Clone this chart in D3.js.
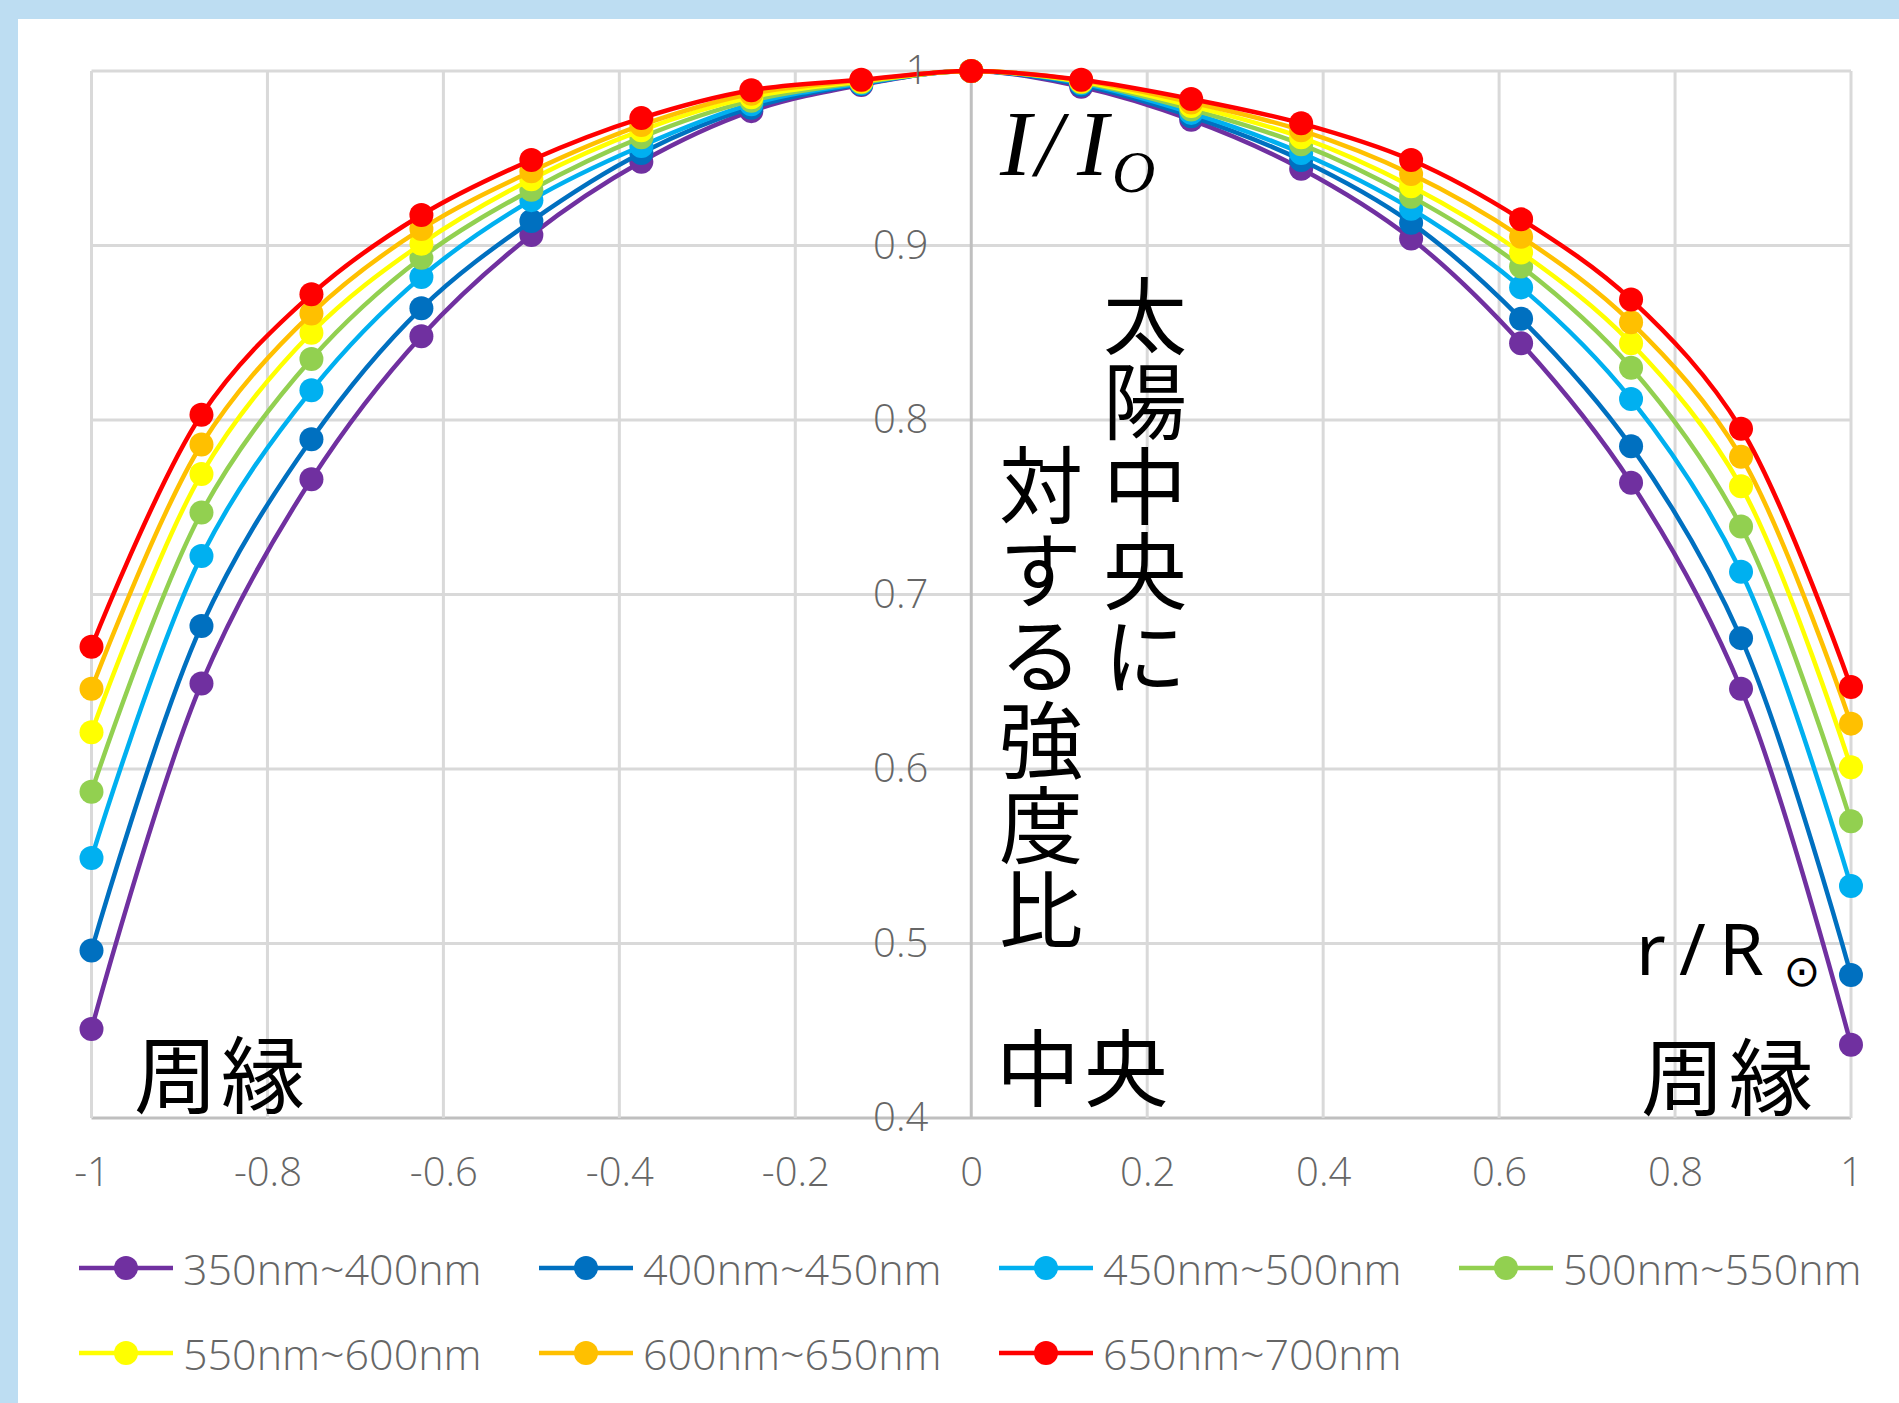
<!DOCTYPE html>
<html><head><meta charset="utf-8">
<script src="https://cdn.jsdelivr.net/npm/d3@7/dist/d3.min.js"></script>
<style>
html,body{margin:0;padding:0;background:#fff;}
svg{display:block;}
</style></head><body>
<svg id="chart" width="1899" height="1403"></svg>
<script>
// ---- data ----
const xValues = [-1,-0.875,-0.75,-0.625,-0.5,-0.375,-0.25,-0.125,0,0.125,0.25,0.375,0.5,0.625,0.75,0.875,1];
const s350_400 = [0.451,0.649,0.766,0.848,0.906,0.948,0.977,0.992,1,0.991,0.972,0.944,0.904,0.844,0.764,0.646,0.442];
const s400_450 = [0.496,0.682,0.789,0.864,0.914,0.953,0.979,0.9925,1,0.992,0.974,0.949,0.913,0.858,0.785,0.675,0.482];
const s450_500 = [0.549,0.722,0.817,0.882,0.926,0.957,0.981,0.993,1,0.993,0.976,0.953,0.921,0.876,0.812,0.713,0.533];
const s500_550 = [0.587,0.747,0.835,0.893,0.932,0.962,0.983,0.9935,1,0.9935,0.978,0.958,0.928,0.888,0.830,0.739,0.570];
const s550_600 = [0.621,0.769,0.850,0.901,0.938,0.966,0.985,0.994,1,0.994,0.980,0.962,0.934,0.896,0.844,0.762,0.601];
const s600_650 = [0.646,0.786,0.861,0.9095,0.9425,0.969,0.987,0.9945,1,0.9945,0.982,0.966,0.941,0.905,0.856,0.779,0.626];
const s650_700 = [0.670,0.803,0.872,0.9175,0.949,0.973,0.989,0.995,1,0.995,0.984,0.970,0.949,0.915,0.869,0.795,0.647];
const seriesNames = ["350nm~400nm","400nm~450nm","450nm~500nm","500nm~550nm","550nm~600nm","600nm~650nm","650nm~700nm"];
const seriesColors = ["#7030A0","#0070C0","#00B0F0","#92D050","#FFFF00","#FFC000","#FF0000"];
const seriesValues = [s350_400,s400_450,s450_500,s500_550,s550_600,s600_650,s650_700];
const xTicks = [-1,-0.8,-0.6,-0.4,-0.2,0,0.2,0.4,0.6,0.8,1];
const xTickLabels = ["-1","-0.8","-0.6","-0.4","-0.2","0","0.2","0.4","0.6","0.8","1"];
const yTicks = [0.4,0.5,0.6,0.7,0.8,0.9,1];
const yTickLabels = ["0.4","0.5","0.6","0.7","0.8","0.9","1"];

// ---- layout ----
const W = 1899, H = 1403;
const plot = {left: 91.5, right: 1851, top: 71, bottom: 1118};
const svg = d3.select("#chart");

// background frame
svg.append("rect").attr("x",0).attr("y",0).attr("width",W).attr("height",H).attr("fill","#BDDDF2");
svg.append("rect").attr("x",18).attr("y",19).attr("width",W-18).attr("height",H-19).attr("fill","#ffffff");

const x = d3.scaleLinear().domain([-1,1]).range([plot.left, plot.right]);
const y = d3.scaleLinear().domain([0.4,1]).range([plot.bottom, plot.top]);

// gridlines
const grid = svg.append("g");
grid.selectAll("line.h").data(yTicks).join("line")
  .attr("x1",plot.left).attr("x2",plot.right)
  .attr("y1",d=>y(d)).attr("y2",d=>y(d))
  .attr("stroke",d=>d===0.4?"#BFBFBF":"#D9D9D9").attr("stroke-width",3);
grid.selectAll("line.v").data(xTicks).join("line")
  .attr("y1",plot.top).attr("y2",plot.bottom)
  .attr("x1",d=>x(d)).attr("x2",d=>x(d))
  .attr("stroke",d=>d===0?"#BFBFBF":"#D9D9D9").attr("stroke-width",3);

// series
const line = d3.line().x((d,i)=>x(xValues[i])).y(d=>y(d)).curve(d3.curveCatmullRom.alpha(0.5));
const sg = svg.append("g");
seriesValues.forEach((vals,si)=>{
  const g = sg.append("g");
  g.append("path").attr("d",line(vals)).attr("fill","none")
    .attr("stroke",seriesColors[si]).attr("stroke-width",4.5).attr("stroke-linejoin","round");
  g.selectAll("circle").data(vals).join("circle")
    .attr("cx",(d,i)=>x(xValues[i])).attr("cy",d=>y(d)).attr("r",12)
    .attr("fill",seriesColors[si]);
});

// axes labels
const tickFont = "'Open Sans', 'Noto Sans', sans-serif";
const yAxis = d3.axisLeft(y).tickValues(yTicks).tickSize(0).tickPadding(43)
  .tickFormat((d,i)=>yTickLabels[i]);
const gy = svg.append("g").attr("transform",`translate(${x(0)},0)`).call(yAxis);
gy.select(".domain").remove();
gy.selectAll("text").attr("font-family",tickFont).attr("font-size",40).attr("font-weight",300).attr("fill","#666");

const xAxis = d3.axisBottom(x).tickValues(xTicks).tickSize(0).tickPadding(40)
  .tickFormat((d,i)=>xTickLabels[i]);
const gx = svg.append("g").attr("transform",`translate(0,${plot.bottom})`).call(xAxis);
gx.select(".domain").remove();
gx.selectAll("text").attr("font-family",tickFont).attr("font-size",40).attr("font-weight",300).attr("fill","#666");

// annotations
const cjk = "'Noto Sans CJK JP', sans-serif";
const ann = svg.append("g");
// I/I0
const serif = "'Liberation Serif','Times New Roman',serif";
[["I",1000],["/",1036],["I",1077]].forEach(([t,px])=>{
  ann.append("text").attr("x",px).attr("y",175).attr("font-family",serif).attr("font-style","italic")
    .attr("font-size",94).attr("fill","#000").text(t);
});
ann.append("text").attr("x",1112).attr("y",192).attr("font-family",serif).attr("font-style","italic")
  .attr("font-size",60).attr("fill","#000").text("O");

// vertical text (Japanese vertical writing)
function vtext(str, cx, yTop){
  ann.append("text").attr("x",cx).attr("y",yTop)
    .style("writing-mode","vertical-rl").attr("letter-spacing",1)
    .attr("font-family",cjk).attr("font-size",84).attr("fill","#000").text(str);
}
vtext("太陽中央に",1145,274);
vtext("対する強度比",1041,443);

function ctext(ch,cx,cy){
  ann.append("text").attr("x",cx).attr("y",cy).attr("text-anchor","middle")
    .attr("dominant-baseline","central").attr("font-family",cjk).attr("font-size",84)
    .attr("fill","#000").text(ch);
}
ctext("周",176,1070); ctext("縁",263,1070);
ctext("中",1038,1063); ctext("央",1126,1063);
ctext("周",1683,1072); ctext("縁",1771,1072);

// r/R⊙
const sans = "'Noto Sans',sans-serif";
[["r",1636],["/",1679],["R",1719]].forEach(([t,px])=>{
  ann.append("text").attr("x",px).attr("y",975).attr("font-family",sans)
    .attr("font-size",72).attr("fill","#000").text(t);
});
ann.append("text").attr("x",1802).attr("y",986).attr("text-anchor","middle")
  .attr("font-family","'DejaVu Sans',sans-serif").attr("font-size",44).attr("fill","#000").text("⊙");

// legend
const leg = svg.append("g");
seriesNames.forEach((name,i)=>{
  const col = i%4, row = Math.floor(i/4);
  const lx = 79 + col*460, ly = 1268 + row*85;
  leg.append("line").attr("x1",lx).attr("x2",lx+94).attr("y1",ly).attr("y2",ly)
    .attr("stroke",seriesColors[i]).attr("stroke-width",4.5);
  leg.append("circle").attr("cx",lx+47).attr("cy",ly).attr("r",12).attr("fill",seriesColors[i]);
  leg.append("text").attr("x",lx+104).attr("y",ly).attr("dominant-baseline","central")
    .attr("font-family",tickFont).attr("font-size",43).attr("font-weight",300).attr("fill","#666").text(name);
});
</script>
</body></html>
